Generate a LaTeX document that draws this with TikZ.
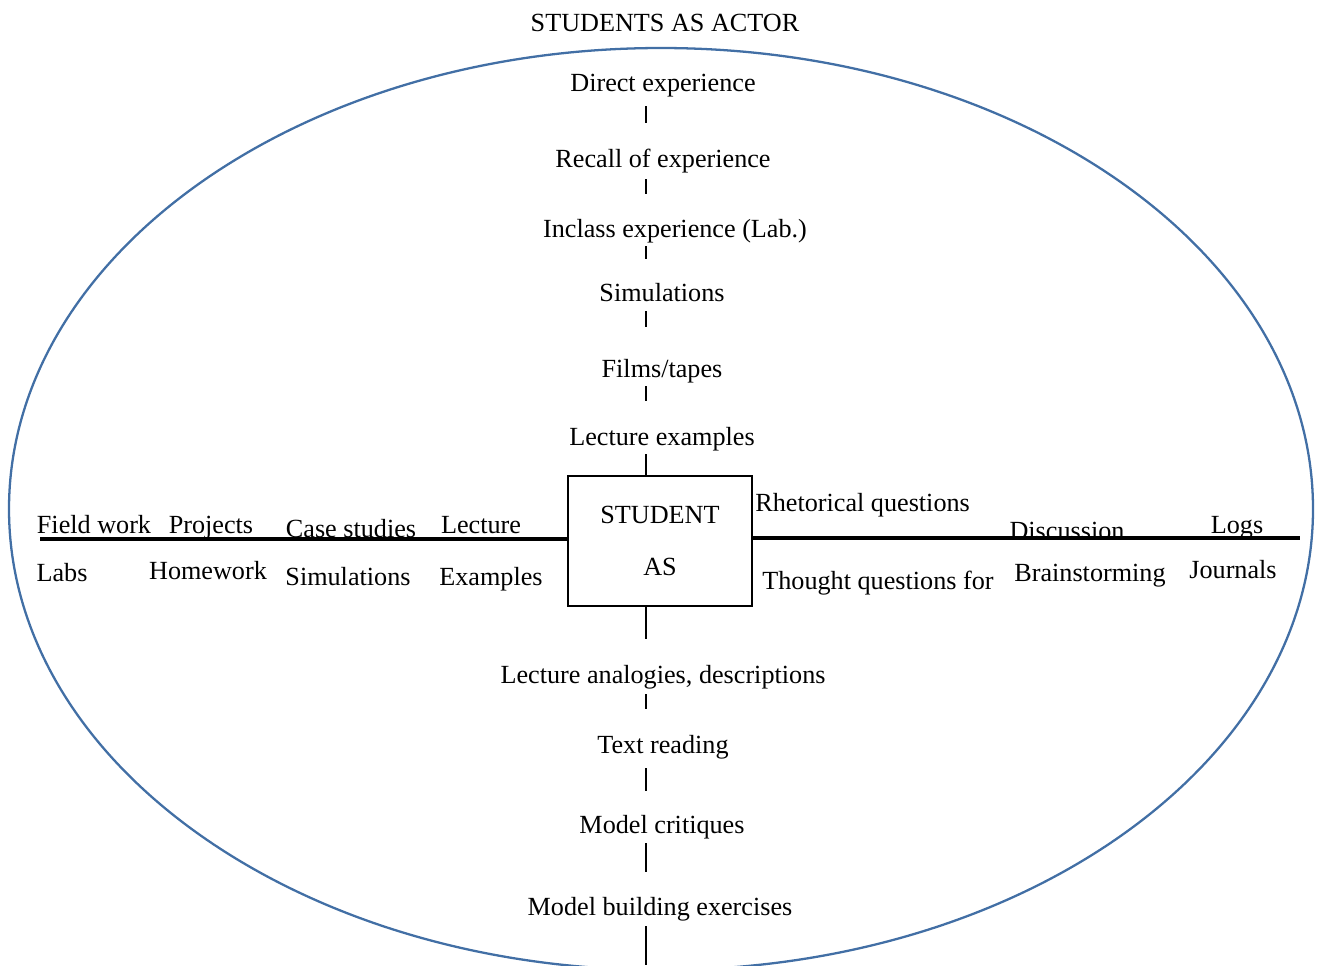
\documentclass[tikz,border=0pt]{standalone}
\usepackage{fontspec}
\setmainfont{Liberation Serif}
\usepackage{xcolor}
\usetikzlibrary{positioning, calc}
\definecolor{ringblue}{RGB}{66,111,165}
\tikzset{
  label/.style={inner sep=0pt, text height=0.7em, text depth=0.22em, yshift=-1mm,
                font=\fontsize{14.9}{18}\selectfont},
  tick/.style={line width=1.1pt},
  bar/.style={line width=2pt}
}

\begin{document}
\begin{tikzpicture}[x=0.02cm, y=-0.02cm]
  \useasboundingbox (0,0) rectangle (1317,965);
  \begin{scope}
    \clip (0,0) rectangle (1317,965);
    \draw[ringblue, line width=1.3pt] (661,509) ellipse [x radius=652, y radius=461];
  \end{scope}
  \node[label] (title) at (665,22) {STUDENTS AS ACTOR};
  % vertical axis, upper half
  \coordinate (axis) at (646,965);
  \node[label] (direct)  at (663,82)  {Direct experience};
  \node[label] (recall)  at (663,158) {Recall of experience};
  \node[label] (inclass) at (675,228) {Inclass experience (Lab.)};
  \node[label] (sims)    at (662,292) {Simulations};
  \node[label] (films)   at (662,368) {Films/tapes};
  \node[label] (lecex)   at (662,436) {Lecture examples};
  \node[draw, line width=1.1pt, minimum width=3.68cm, minimum height=2.6cm,
        align=center, font=\fontsize{14.9}{29.5}\selectfont] (box) at (660,541) {STUDENT\\AS};
  % vertical axis, lower half
  \node[label] (analog)    at (663,674) {Lecture analogies, descriptions};
  \node[label] (textread)  at (663,744) {Text reading};
  \node[label] (critiques) at (662,824) {Model critiques};
  \node[label] (building)  at (660,906) {Model building exercises};
  \foreach \a/\b/\s/\e in {direct/recall/2.2/6.4, recall/inclass/1.6/6.2,
      inclass/sims/1/6, sims/films/1.2/7.6, films/lecex/1/6.4, lecex/box/1/0,
      box/analog/0/6.4, analog/textread/1.4/6.4, textread/critiques/2.2/6,
      critiques/building/1.2/6.2}
    \draw[tick, shorten <=\s mm, shorten >=\e mm] (\a.south -| axis) -- (\b.north -| axis);
  \draw[tick, shorten <=1.4mm] (building.south -| axis) -- (axis);
  % left arm
  \coordinate (lend) at (40,539);
  \draw[bar] (lend) -- (lend -| box.west);
  \node[label] (field)    at (94,524)  {Field work};
  \node[label] (projects) at (211,524) {Projects};
  \node[label] (cases)    at (351,528) {Case studies};
  \node[label] (lecture)  at (481,524) {Lecture};
  \node[label] (labs)     at (62,572)  {Labs};
  \node[label] (homework) at (208,570) {Homework};
  \node[label] (simsl)    at (348,576) {Simulations};
  \node[label] (examples) at (491,576) {Examples};
  % right arm
  \coordinate (rend) at (1300,538);
  \draw[bar] (box.east |- rend) -- (rend);
  \node[label, anchor=west] (rhet)    at (755,502) {Rhetorical questions};
  \node[label, anchor=west] (thought) at (762,580) {Thought questions for};
  \node[label] (discuss) at (1067,530) {Discussion};
  \node[label] (brain)   at (1090,572) {Brainstorming};
  \node[label] (logs)    at (1237,524) {Logs};
  \node[label] (journal) at (1233,569) {Journals};
\end{tikzpicture}
\end{document}
